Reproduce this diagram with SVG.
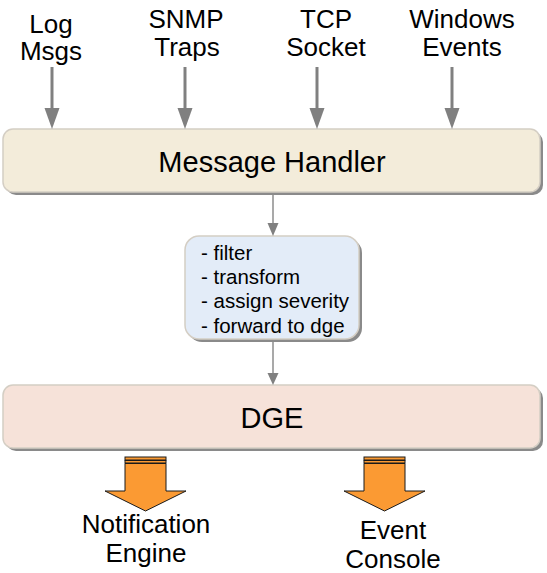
<svg xmlns="http://www.w3.org/2000/svg" width="547" height="573" viewBox="0 0 547 573">
<defs>
<style>
text{font-family:"Liberation Sans",Arial,sans-serif;fill:#000}
.lbl{font-size:26px;text-anchor:middle}
.big{font-size:29px;text-anchor:middle}
.small{font-size:20.5px}
.shadow{fill:#8a8a8a}
.box{stroke:#d4cec4;stroke-width:1.5}
.in{stroke:#808080;stroke-width:3;fill:none}
.thin{stroke:#8c8c8c;stroke-width:1.5;fill:none}
.orange{fill:#fb9a33;stroke:#1a1a1a;stroke-width:1}
</style>
</defs>

<g id="sources">
<text class="lbl" x="51" y="33">Log</text>
<text class="lbl" x="51" y="60">Msgs</text>
<text class="lbl" x="186" y="28">SNMP</text>
<text class="lbl" x="187" y="56">Traps</text>
<text class="lbl" x="326" y="28">TCP</text>
<text class="lbl" x="326" y="56">Socket</text>
<text class="lbl" x="462" y="28">Windows</text>
<text class="lbl" x="462" y="56">Events</text>
</g>

<g id="message-handler">
<rect class="shadow" x="6" y="132" width="537" height="63" rx="10"/>
<rect class="box" x="3" y="129" width="537" height="63" rx="10" fill="#f3ecda"/>
<text class="big" x="272" y="172">Message Handler</text>
</g>

<g id="processing">
<rect class="shadow" x="188" y="239" width="174" height="103" rx="14"/>
<rect class="box" x="185" y="236" width="174" height="103" rx="14" fill="#e3ecf8"/>
<text class="small" x="201" y="260">- filter</text>
<text class="small" x="201" y="284">- transform</text>
<text class="small" x="201" y="308">- assign severity</text>
<text class="small" x="201" y="333">- forward to dge</text>
</g>

<g id="dge">
<rect class="shadow" x="6" y="388" width="537" height="63" rx="10"/>
<rect class="box" x="3" y="385" width="537" height="63" rx="10" fill="#f6e2d9"/>
<text class="big" x="272" y="428">DGE</text>
</g>

<g id="connectors">
<g fill="#808080">
<line class="in" x1="52" y1="67" x2="52" y2="110"/>
<path d="M44.5,108 L59.5,108 L52,129 Z"/>
<line class="in" x1="185" y1="67" x2="185" y2="110"/>
<path d="M177.5,108 L192.5,108 L185,129 Z"/>
<line class="in" x1="317" y1="67" x2="317" y2="110"/>
<path d="M309.5,108 L324.5,108 L317,129 Z"/>
<line class="in" x1="452" y1="67" x2="452" y2="110"/>
<path d="M444.5,108 L459.5,108 L452,129 Z"/>
</g>
<g fill="#808080">
<line class="thin" x1="273" y1="195" x2="273" y2="225"/>
<path d="M267.5,223 L278.5,223 L273,236 Z"/>
<line class="thin" x1="273" y1="342" x2="273" y2="375"/>
<path d="M267.5,373 L278.5,373 L273,385 Z"/>
</g>
<g id="out-notification">
<rect class="orange" x="125" y="457" width="41" height="3"/>
<rect class="orange" x="125" y="460.5" width="41" height="2.5"/>
<path class="orange" d="M125,463.5 L166,463.5 L166,491 L186,491 L145.5,511 L105,491 L125,491 Z"/>
</g>
<g id="out-console">
<rect class="orange" x="364" y="457" width="41" height="3"/>
<rect class="orange" x="364" y="460.5" width="41" height="2.5"/>
<path class="orange" d="M364,463.5 L405,463.5 L405,491 L425,491 L384.5,511 L344,491 L364,491 Z"/>
</g>
</g>

<g id="targets">
<text class="lbl" x="146" y="533">Notification</text>
<text class="lbl" x="146" y="562">Engine</text>
<text class="lbl" x="393" y="539">Event</text>
<text class="lbl" x="393" y="568">Console</text>
</g>
</svg>
